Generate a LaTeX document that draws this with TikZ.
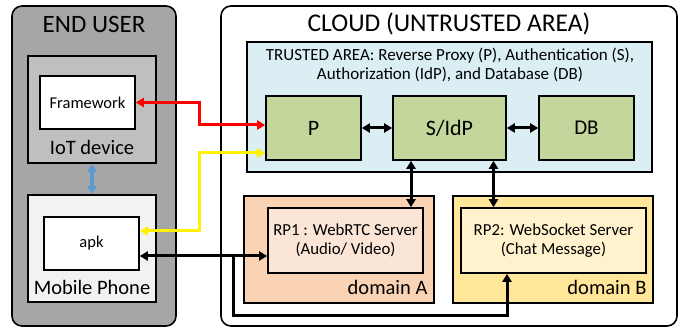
\documentclass[tikz,border=0pt]{standalone}
\usepackage{fontspec}
\setmainfont{Carlito}
\usetikzlibrary{arrows.meta,calc}

\definecolor{userbg}{HTML}{A6A6A6}
\definecolor{iotbg}{HTML}{BFBFBF}
\definecolor{phonebg}{HTML}{F2F2F2}
\definecolor{trustbg}{HTML}{DAEEF3}
\definecolor{greenbox}{HTML}{C3D69B}
\definecolor{domAbg}{HTML}{F9D3B4}
\definecolor{rpAbg}{HTML}{FBE5D6}
\definecolor{domBbg}{HTML}{FFE699}
\definecolor{rpBbg}{HTML}{FFF2CC}
\definecolor{linkblue}{HTML}{5B9BD5}

\tikzset{
  box/.style={draw=black, line width=1.6pt, inner sep=0pt, align=center},
  area/.style={box, rounded corners=10pt},
  fs/.style={font=\fontsize{#1}{#1}\selectfont},
  tip/.style={{Triangle[length=8pt,width=9pt]}-{Triangle[length=8pt,width=9pt]}},
  onetip/.style={-{Triangle[length=8pt,width=9pt]}},
  link/.style={line width=3pt, black},
}

\begin{document}
\begin{tikzpicture}[x=1pt,y=-1pt]
\useasboundingbox (0,0) rectangle (683,331);

% end user side
\node[area, fill=userbg, minimum width=164pt, minimum height=320pt] (enduser) at (94,166) {};
\node[fs=25] (endusertitle) at (94,24) {END USER};
\node[box, fill=iotbg, minimum width=128pt, minimum height=107pt] (iot) at (92,109.5) {};
\node[box, fill=white, minimum width=95pt, minimum height=53pt, fs=16.5] (framework) at (87.5,102.5) {Framework};
\node[fs=20.5] (iotlabel) at (92,147) {IoT device};
\node[box, fill=phonebg, minimum width=128pt, minimum height=107pt] (mobile) at (92,248.5) {};
\node[box, fill=white, minimum width=95pt, minimum height=53pt, fs=16.5] (apk) at (91.5,243.5) {apk};
\node[fs=20.5] (mobilelabel) at (92,287) {Mobile Phone};

% cloud side
\node[area, fill=white, minimum width=456pt, minimum height=320pt] (cloud) at (449,166) {};
\node[fs=25.5] (cloudtitle) at (449,24) {CLOUD (UNTRUSTED AREA)};
\node[box, fill=trustbg, minimum width=405pt, minimum height=130pt] (trusted) at (449.5,107) {};
\node[fs=17, align=center] (trustedtext) at (450,65) {TRUSTED AREA: Reverse Proxy (P), Authentication (S),\\[2pt]Authorization (IdP), and Database (DB)};
\node[box, fill=greenbox, minimum width=95pt, minimum height=64pt, fs=22] (P) at (313.5,128) {P};
\node[box, fill=greenbox, minimum width=113pt, minimum height=64pt, fs=22] (SIdP) at (449.5,128) {S/IdP};
\node[box, fill=greenbox, minimum width=95pt, minimum height=64pt, fs=21] (DB) at (586.5,128) {DB};

\node[box, fill=domAbg, minimum width=190pt, minimum height=107pt] (domA) at (339,249.5) {};
\node[box, fill=rpAbg, minimum width=155pt, minimum height=65pt, fs=16.8, align=center] (RP1) at (345.5,240.5) {RP1 : WebRTC Server\\[2pt](Audio/ Video)};
\node[fs=20.5, anchor=east] (domAlabel) at (431,287) {domain A};
\node[box, fill=domBbg, minimum width=200pt, minimum height=107pt] (domB) at (553,249.5) {};
\node[box, fill=rpBbg, minimum width=185pt, minimum height=65pt, fs=16.8, align=center] (RP2) at (553.5,240.5) {RP2: WebSocket Server\\[2pt](Chat Message)};
\node[fs=20.5, anchor=east] (domBlabel) at (650,287) {domain B};

% connectors
\draw[tip, line width=3.2pt, linkblue] (iot.south) -- (mobile.north);

\draw[tip, line width=3pt, red] (framework.east) -- (199,102.5) -- (199,125) -- ([yshift=3pt]P.west);
\draw[tip, line width=3pt, yellow] ([yshift=-25pt]P.west) -- (199,153) -- (199,231) -- ([yshift=12.5pt]apk.east);

\draw[tip, link] (P.east) -- (SIdP.west);
\draw[tip, link] (SIdP.east) -- (DB.west);

\draw[tip, link] ([xshift=-38.5pt]SIdP.south) coordinate (s1) -- (s1 |- RP1.north);
\draw[tip, link] ([xshift=44pt]SIdP.south) coordinate (s2) -- (s2 |- RP2.north);

\draw[tip, link] ([yshift=-12.5pt]apk.east) coordinate (a1) -- (a1 -| RP1.west);
\coordinate (branch) at (233,256);
\coordinate (corner) at (507,315);
\draw[onetip, link] (branch) -- (branch |- corner) -- (corner) -- (corner |- RP2.south);
\end{tikzpicture}
\end{document}
